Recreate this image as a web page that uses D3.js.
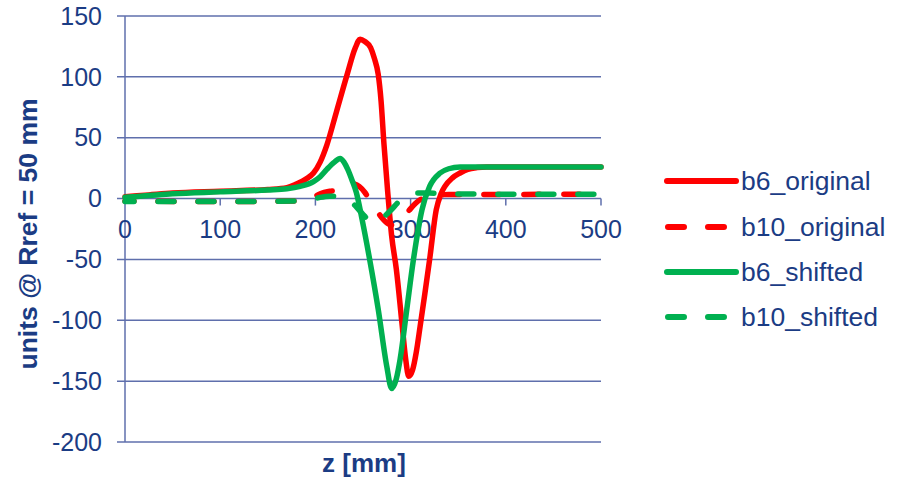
<!DOCTYPE html>
<html>
<head>
<meta charset="utf-8">
<script src="https://cdn.jsdelivr.net/npm/d3@7"></script>
<style>
  html, body { margin: 0; padding: 0; background: #fff; }
  svg text { font-family: "Liberation Sans", Arial, sans-serif; }
</style>
</head>
<body>
<svg id="chart" width="901" height="479"></svg>
<script>
// Multipole components along the magnet axis (units at Rref = 50 mm)
const b6OriginalZ = [0, 25, 50, 100, 150, 170, 180, 190, 198, 205, 212, 222, 233, 242, 247, 252, 258, 262, 266, 269, 272, 276, 280, 285, 291, 295, 298, 302, 306, 310, 315, 320, 327, 332, 336, 344, 352, 360, 370, 380, 500];
const b6OriginalV = [1.5, 3, 4.5, 6, 7.5, 9, 12, 16, 21, 30, 44, 71, 101, 124, 131, 129, 124, 115, 102, 80, 45, 5, -30, -58, -103, -133, -146, -141, -126, -105, -78, -50, -9, 4, 10, 17, 21, 24, 25.5, 26, 26];

const b10OriginalZ = [0, 100, 180, 195, 205, 215, 225, 233, 240, 246, 252, 257, 263, 270, 277, 282, 288, 297, 305, 312, 320, 340, 500];
const b10OriginalV = [-2, -2.5, -2, 0, 4, 6, 7, 9.5, 12, 10, 5, -1, -8, -16, -21, -22, -19, -11, -4, 0, 2.5, 3.3, 3.5];

const b6ShiftedZ = [0, 25, 50, 100, 150, 170, 184, 198, 205, 212, 220, 226, 230, 234, 239, 243, 249, 257, 266, 275, 280, 285, 289, 296, 303, 312, 320, 331, 340, 352, 500];
const b6ShiftedV = [1, 2.5, 4, 5.5, 7, 8, 10, 14, 18, 24, 30, 33, 30, 24, 14, 5, -17, -50, -91, -138, -156, -148, -132, -91, -50, -9, 10, 21, 24.5, 26, 26];

const b10ShiftedZ = [0, 100, 180, 195, 205, 215, 225, 235, 242, 250, 257, 263, 270, 280, 287, 295, 305, 320, 340, 500];
const b10ShiftedV = [-2.5, -2.5, -2, -1, 1, 2, 2, -1, -6, -13, -18, -19, -16, -9, -3, 2, 4.5, 4.5, 3.8, 3.5];

const xTicks = [0, 100, 200, 300, 400, 500];
const yTicks = [-200, -150, -100, -50, 0, 50, 100, 150];

const seriesNames = ["b6_original", "b10_original", "b6_shifted", "b10_shifted"];
const seriesColors = ["#ff0000", "#ff0000", "#00b050", "#00b050"];
const seriesDashed = [false, true, false, true];
const seriesZ = [b6OriginalZ, b10OriginalZ, b6ShiftedZ, b10ShiftedZ];
const seriesV = [b6OriginalV, b10OriginalV, b6ShiftedV, b10ShiftedV];

const textColor = "#1b3c84";
const gridColor = "#5f6fac";

const svg = d3.select("#chart");
const x = d3.scaleLinear().domain([0, 500]).range([125, 601]);
const y = d3.scaleLinear().domain([-200, 150]).range([442, 16]);

// horizontal gridlines, extending left past the axis as tick marks
svg.append("g").selectAll("line").data(yTicks).join("line")
  .attr("x1", x(0) - 8).attr("x2", x(500))
  .attr("y1", d => y(d)).attr("y2", d => y(d))
  .attr("stroke", gridColor).attr("stroke-width", 1.5);

// vertical axis
svg.append("line")
  .attr("x1", x(0)).attr("x2", x(0)).attr("y1", y(150)).attr("y2", y(-200))
  .attr("stroke", gridColor).attr("stroke-width", 1.5);

// x ticks hang below the zero line
svg.append("g").selectAll("line").data(xTicks.filter(d => d > 0)).join("line")
  .attr("x1", d => x(d)).attr("x2", d => x(d))
  .attr("y1", y(0)).attr("y2", y(0) + 7)
  .attr("stroke", gridColor).attr("stroke-width", 1.5);

// y tick labels
svg.append("g").selectAll("text").data(yTicks).join("text")
  .attr("x", 102).attr("y", d => y(d))
  .attr("dy", "0.35em")
  .attr("text-anchor", "end")
  .attr("font-size", 25)
  .attr("fill", textColor)
  .text(d => d);

// x tick labels
svg.append("g").selectAll("text").data(xTicks).join("text")
  .attr("x", d => x(d)).attr("y", 238)
  .attr("text-anchor", "middle")
  .attr("font-size", 25)
  .attr("fill", textColor)
  .text(d => d);

// series
const line = d3.line()
  .x(d => x(d[0])).y(d => y(d[1]))
  .curve(d3.curveMonotoneX);

seriesNames.forEach((name, i) => {
  const pts = seriesZ[i].map((z, k) => [z, seriesV[i][k]]);
  const p = svg.append("path")
    .datum(pts)
    .attr("d", line)
    .attr("fill", "none")
    .attr("stroke", seriesColors[i])
    .attr("stroke-width", 5.5)
    .attr("stroke-linecap", "round")
    .attr("stroke-linejoin", "round");
  if (seriesDashed[i]) p.attr("stroke-dasharray", "16 24").attr("stroke-dashoffset", 7);
});

// axis titles
svg.append("text")
  .attr("transform", "translate(37,234) rotate(-90)")
  .attr("text-anchor", "middle")
  .attr("font-size", 26.5).attr("font-weight", "bold")
  .attr("fill", textColor)
  .text("units @ Rref = 50 mm");

svg.append("text")
  .attr("x", 364).attr("y", 472)
  .attr("text-anchor", "middle")
  .attr("font-size", 26).attr("font-weight", "bold")
  .attr("fill", textColor)
  .text("z [mm]");

// legend
const legendRows = [181, 227, 272, 317];
const legend = svg.append("g");
seriesNames.forEach((name, i) => {
  const ly = legendRows[i];
  const l = legend.append("line")
    .attr("x1", seriesDashed[i] ? 668 : 667).attr("x2", seriesDashed[i] ? 724 : 736)
    .attr("y1", ly).attr("y2", ly)
    .attr("stroke", seriesColors[i]).attr("stroke-width", 6)
    .attr("stroke-linecap", "round");
  if (seriesDashed[i]) l.attr("stroke-dasharray", "16 24");
  legend.append("text")
    .attr("x", 741).attr("y", ly).attr("dy", "0.35em")
    .attr("font-size", 26.5)
    .attr("fill", textColor)
    .text(name);
});
</script>
</body>
</html>
